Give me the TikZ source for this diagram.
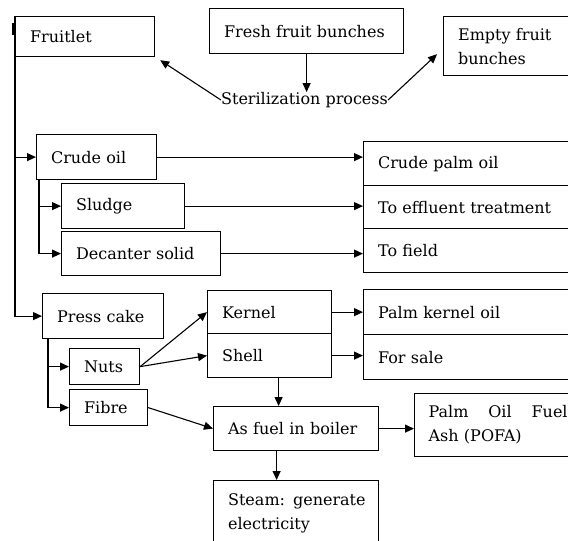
\documentclass[tikz,border=0pt]{standalone}
\usepackage{fontspec}
\setmainfont{DejaVu Serif}
\usetikzlibrary{arrows.meta}
\begin{document}
\begin{tikzpicture}[x=1pt,y=-1pt,
  box/.style={draw, line width=1.2pt, anchor=north west, inner xsep=14.5pt, inner ysep=0pt,
    align=left, font=\fontsize{16}{24}\selectfont},
  plain/.style={inner sep=0pt, font=\fontsize{16}{24}\selectfont},
  arr/.style={line width=1.1pt, -{Triangle[length=9pt,width=8pt]}}]
\useasboundingbox (0,0) rectangle (568,541);
\clip (0,0) rectangle (568,541);
% boxes
\node[box, text width=110pt, minimum height=40pt] (fruitlet) at (15,16) {Fruitlet};
\node[box, text width=165pt, minimum height=45pt] (fresh) at (209,8) {Fresh fruit bunches};
\node[box, text width=120pt, minimum height=59pt] (efb) at (443,16) {Empty fruit\\bunches};
\node[plain] (ster) at (304.5,100) {Sterilization process};
\node[box, text width=91pt, minimum height=45pt] (crude) at (36,134) {Crude oil};
\node[box, text width=94pt, minimum height=45pt] (sludge) at (61,183) {Sludge};
\node[box, text width=130pt, minimum height=44pt] (decanter) at (61,231) {Decanter solid};
\node[box, text width=200pt, minimum height=44pt] (cpo) at (363,141) {Crude palm oil};
\node[box, text width=200pt, minimum height=43pt] (eff) at (363,185) {To effluent treatment};
\node[box, text width=200pt, minimum height=44pt] (field) at (363,228) {To field};
\node[box, text width=92pt, minimum height=45pt] (press) at (42,293) {Press cake};
\node[box, text width=41pt, minimum height=36pt] (nuts) at (69,348) {Nuts};
\node[box, text width=49pt, minimum height=36pt] (fibre) at (69,389) {Fibre};
\node[box, text width=95pt, minimum height=43pt] (kernel) at (207,290) {Kernel};
\node[box, text width=95pt, minimum height=44pt] (shell) at (207,333) {Shell};
\node[box, text width=200pt, minimum height=45pt] (pko) at (363,289) {Palm kernel oil};
\node[box, text width=200pt, minimum height=45pt] (sale) at (363,334) {For sale};
\node[box, text width=136pt, minimum height=44pt] (fuel) at (213,406) {As fuel in boiler};
\node[box, text width=139pt, inner xsep=14pt, minimum height=63pt] (pofa) at (414,393) {Palm\hfill Oil\hfill Fuel\\Ash (POFA)};
\node[box, text width=136pt, minimum height=65pt] (steam) at (213,480) {\mbox{Steam: generate}\\electricity};
% connectors
\draw[line width=2pt] (13,23) -- (13,35);
\draw[arr] (fresh.south) -- (fresh.south |- ster.north);
\draw[arr] (ster.west) -- ([xshift=5pt,yshift=-3pt]fruitlet.south east);
\draw[arr] (ster.east) -- ([xshift=-6pt,yshift=22pt]efb.south west);
\draw[arr] (fruitlet.north west) |- (press.west);
\draw[arr] (fruitlet.west |- crude.west) -- (crude.west);
\draw[arr] ([xshift=3pt]crude.south west) |- (sludge.west);
\draw[arr] ([xshift=3pt]crude.south west) |- (decanter.west);
\draw[arr] (crude.east) -- (crude.east -| cpo.west);
\draw[arr] (sludge.east) -- (sludge.east -| eff.west);
\draw[arr] (decanter.east) -- (decanter.east -| field.west);
\draw[arr] ([xshift=6pt]press.south west) |- (nuts.west);
\draw[arr] ([xshift=6pt]press.south west) |- (fibre.west);
\draw[arr] (nuts.east) -- (kernel.west);
\draw[arr] (nuts.east) -- (shell.west);
\draw[arr] (kernel.east) -- (kernel.east -| pko.west);
\draw[arr] (shell.east) -- (shell.east -| sale.west);
\draw[arr] ([xshift=9pt]shell.south) -- ([xshift=9pt]shell.south |- fuel.north);
\draw[arr] (fibre.east) -- (fuel.west);
\draw[arr] (fuel.east) -- (fuel.east -| pofa.west);
\draw[arr] ([xshift=-19.5pt]fuel.south) -- ([xshift=-19.5pt]fuel.south |- steam.north);
\end{tikzpicture}
\end{document}
